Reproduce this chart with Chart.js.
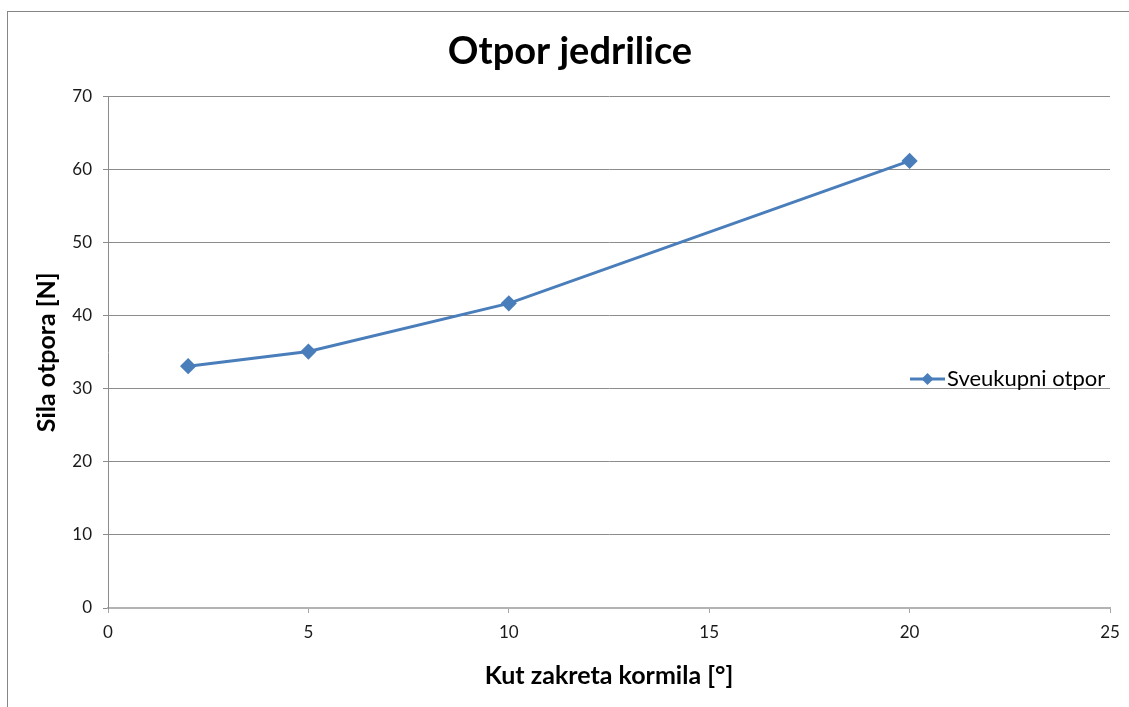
<!DOCTYPE html>
<html>
<head>
<meta charset="utf-8">
<title>Otpor jedrilice</title>
<script src="https://cdn.jsdelivr.net/npm/chart.js@4.4.1/dist/chart.umd.min.js"></script>
<style>
  html, body { margin: 0; padding: 0; background: #fff; }
  #wrap { position: relative; width: 1129px; height: 707px; }
</style>
</head>
<body>
<div id="wrap"><canvas id="myChart" width="1129" height="707"></canvas></div>
<script>
// kut zakreta kormila [°] i sila otpora [N]
var kutevi = [2, 5, 10, 20];
var otpor = [33.1, 35.1, 41.7, 61.2];
var nazivSerije = 'Sveukupni otpor';
var xTicks = [0, 5, 10, 15, 20, 25];
var yTicks = [0, 10, 20, 30, 40, 50, 60, 70];

var plava = '#4a7ebb';
var font = 'Lato';

// okvir oko cijelog grafa
var okvir = {
  id: 'okvir',
  beforeDraw: function (chart) {
    var c = chart.ctx;
    c.save();
    c.strokeStyle = '#868686';
    c.lineWidth = 1;
    c.strokeRect(7.5, 11.5, 1300, 900);
    c.restore();
  }
};

// legenda desno, preko podrucja grafa
var legenda = {
  id: 'legenda',
  afterDraw: function (chart) {
    var c = chart.ctx;
    var a = chart.chartArea;
    var x = a.right - 200, y = a.top + (a.bottom - a.top) * 0.552;
    c.save();
    c.strokeStyle = plava;
    c.lineWidth = 3;
    c.beginPath();
    c.moveTo(x, y);
    c.lineTo(x + 35, y);
    c.stroke();
    c.fillStyle = plava;
    c.beginPath();
    c.moveTo(x + 17.5, y - 6);
    c.lineTo(x + 23.5, y);
    c.lineTo(x + 17.5, y + 6);
    c.lineTo(x + 11.5, y);
    c.closePath();
    c.fill();
    c.fillStyle = '#000';
    c.font = '22px ' + font;
    c.textBaseline = 'middle';
    c.fillText(nazivSerije, x + 37, y);
    c.restore();
  }
};

var ctx = document.getElementById('myChart');

var myChart = new Chart(ctx, {
  type: 'scatter',
  data: {
    datasets: [{
      label: nazivSerije,
      data: kutevi.map(function (k, i) { return { x: k, y: otpor[i] }; }),
      showLine: true,
      borderColor: plava,
      backgroundColor: plava,
      borderWidth: 3,
      pointStyle: 'rectRot',
      pointRadius: 6,
      pointHoverRadius: 6,
      tension: 0
    }]
  },
  options: {
    responsive: false,
    animation: false,
    layout: { padding: { left: 30, right: 19, top: 0, bottom: 0 } },
    plugins: {
      legend: { display: false },
      tooltip: { enabled: false },
      title: {
        display: true,
        text: 'Otpor jedrilice',
        color: '#000',
        font: { family: font, size: 38, weight: 'bold', lineHeight: 1.2 },
        padding: { top: 29, bottom: 22 }
      }
    },
    scales: {
      x: {
        type: 'linear',
        min: 0,
        max: 25,
        afterFit: function (s) { s.height = 99; },
        afterBuildTicks: function (s) { s.ticks = xTicks.map(function (v) { return { value: v }; }); },
        grid: { drawOnChartArea: false, drawTicks: true, tickLength: 5, color: '#a6a6a6' },
        border: { color: '#b3b3b3', width: 2 },
        ticks: { color: '#1a1a1a', padding: 9, font: { family: font, size: 17 } },
        title: {
          display: true,
          text: 'Kut zakreta kormila [°]',
          color: '#000',
          font: { family: font, size: 25, weight: 'bold', lineHeight: 1.2 },
          padding: { top: 0, bottom: 16 }
        }
      },
      y: {
        min: 0,
        max: 70,
        afterFit: function (s) { s.width = 78; },
        afterBuildTicks: function (s) { s.ticks = yTicks.map(function (v) { return { value: v }; }); },
        grid: { color: '#8c8c8c', lineWidth: 1, tickLength: 5 },
        border: { color: '#8c8c8c', width: 1 },
        ticks: { color: '#1a1a1a', padding: 11, font: { family: font, size: 17 } },
        title: {
          display: true,
          text: 'Sila otpora [N]',
          color: '#000',
          font: { family: font, size: 25, weight: 'bold', lineHeight: 1.2 },
          padding: { top: 2, bottom: 0 }
        }
      }
    }
  },
  plugins: [okvir, legenda]
});
</script>
</body>
</html>
